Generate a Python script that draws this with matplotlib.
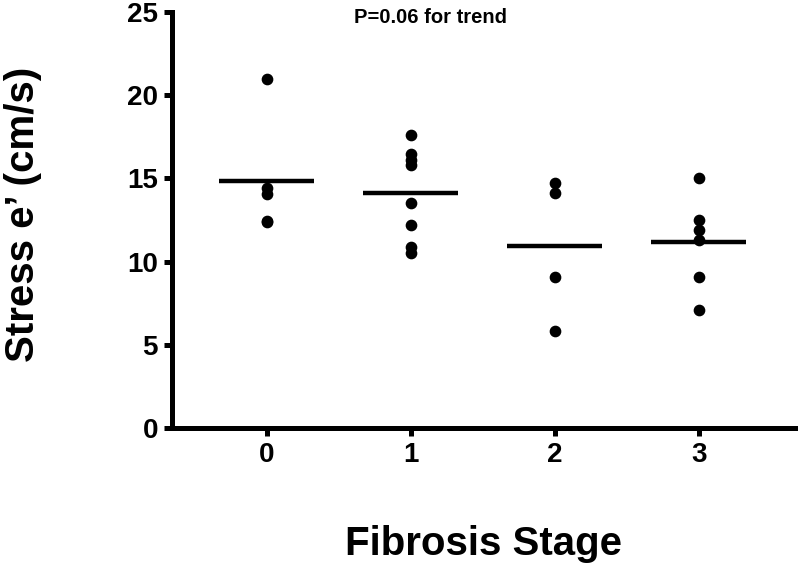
import matplotlib
matplotlib.use("Agg")
import matplotlib.pyplot as plt
import numpy as np

plt.rcParams['font.family'] = ['Liberation Sans', 'DejaVu Sans']
plt.rcParams['font.weight'] = 'bold'

stages = [0, 1, 2, 3]
stage_labels = ["0", "1", "2", "3"]
stage0 = [21.0, 14.45, 14.05, 12.45, 12.4]
stage1 = [17.6, 16.45, 16.1, 15.8, 13.55, 12.2, 10.85, 10.5]
stage2 = [14.7, 14.1, 9.1, 5.8]
stage3 = [15.0, 12.5, 11.9, 11.3, 9.1, 7.1]
groups = [stage0, stage1, stage2, stage3]
yticks = [0, 5, 10, 15, 20, 25]

fig = plt.figure(figsize=(8, 5.75), dpi=100)
ax = fig.add_axes([0.215, 0.2557, 0.779, 0.7233])

for x, vals in zip(stages, groups):
    ax.plot([x] * len(vals), vals, 'o', color='black', markersize=7.4, zorder=3)
    m = np.mean(vals)
    ax.plot([x - 0.33, x + 0.33], [m, m], color='black', linewidth=3.2,
            solid_capstyle='butt', zorder=2)

ax.set_xlim(-0.66, 3.67)
ax.set_ylim(0, 25)
ax.set_xticks(stages)
ax.set_xticklabels(stage_labels)
ax.set_yticks(yticks)
for s in ['top', 'right']:
    ax.spines[s].set_visible(False)
for s in ['left', 'bottom']:
    ax.spines[s].set_linewidth(3.6)
ax.tick_params(axis='both', width=3.6, length=6, labelsize=20, pad=4)
for lab in ax.get_xticklabels() + ax.get_yticklabels():
    lab.set_fontweight('bold')

fig.text(0.029, 1 - 214 / 575, "Stress e’ (cm/s)", rotation=90,
         ha='center', va='center', fontsize=29, fontweight='bold')
fig.text(0.6038, 0.035, "Fibrosis Stage", ha='center', va='baseline',
         fontsize=29, fontweight='bold')
fig.text(0.538, 0.97, "P=0.06 for trend", ha='center', va='center',
         fontsize=14.5, fontweight='bold')

fig.savefig("out.png", dpi=100)
